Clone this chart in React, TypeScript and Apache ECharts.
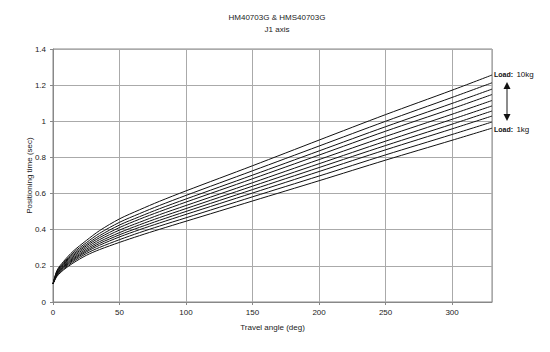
import React, { useEffect, useRef } from "react";
import * as echarts from "echarts";

const angles = [0, 3, 8, 15, 25, 35, 50, 65, 80, 100, 150, 200, 250, 300, 330];

const load1kg = [0.1, 0.142, 0.178, 0.215, 0.258, 0.29, 0.33, 0.367, 0.402, 0.447, 0.559, 0.671, 0.785, 0.895, 0.962];
const load2kg = [0.1, 0.146, 0.183, 0.223, 0.268, 0.302, 0.345, 0.384, 0.42, 0.466, 0.582, 0.697, 0.814, 0.927, 0.996];
const load3kg = [0.1, 0.15, 0.189, 0.23, 0.277, 0.314, 0.36, 0.4, 0.437, 0.485, 0.603, 0.722, 0.842, 0.958, 1.029];
const load4kg = [0.1, 0.153, 0.193, 0.236, 0.284, 0.324, 0.372, 0.413, 0.452, 0.501, 0.622, 0.744, 0.866, 0.984, 1.057];
const load5kg = [0.1, 0.156, 0.198, 0.242, 0.292, 0.334, 0.384, 0.427, 0.467, 0.517, 0.641, 0.765, 0.89, 1.011, 1.085];
const load6kg = [0.1, 0.159, 0.202, 0.249, 0.301, 0.345, 0.398, 0.441, 0.483, 0.534, 0.66, 0.788, 0.916, 1.039, 1.115];
const load7kg = [0.1, 0.163, 0.208, 0.256, 0.31, 0.356, 0.412, 0.458, 0.5, 0.553, 0.682, 0.813, 0.945, 1.07, 1.148];
const load8kg = [0.1, 0.166, 0.213, 0.263, 0.318, 0.367, 0.426, 0.472, 0.516, 0.57, 0.702, 0.836, 0.97, 1.099, 1.178];
const load9kg = [0.1, 0.17, 0.218, 0.271, 0.328, 0.38, 0.441, 0.489, 0.534, 0.59, 0.726, 0.863, 1.0, 1.132, 1.213];
const load10kg = [0.1, 0.175, 0.225, 0.28, 0.34, 0.395, 0.46, 0.51, 0.557, 0.615, 0.754, 0.896, 1.037, 1.172, 1.256];

const seriesNames = ["1kg", "2kg", "3kg", "4kg", "5kg", "6kg", "7kg", "8kg", "9kg", "10kg"];
const seriesValues = [load1kg, load2kg, load3kg, load4kg, load5kg, load6kg, load7kg, load8kg, load9kg, load10kg];

const titleLines = ["HM40703G & HMS40703G", "J1 axis"];
const xAxisName = "Travel angle (deg)";
const yAxisName = "Positioning time (sec)";

const FONT = "'Liberation Sans', Arial, sans-serif";

export default function App() {
  const ref = useRef<HTMLDivElement>(null);
  useEffect(() => {
    if (!ref.current) return;
    const chart = echarts.init(ref.current, undefined, { renderer: "svg" });
    const series = seriesValues.map((vals, i) => ({
      name: seriesNames[i],
      type: "line",
      data: angles.map((a, j) => [a, vals[j]]),
      showSymbol: false,
      smooth: 0.3,
      lineStyle: { color: "#111", width: 1 },
      silent: true,
    }));
    const rich = {
      a: { fontSize: 7, fontFamily: FONT, fill: "#111", color: "#111", fontWeight: "bold" },
      b: { fontSize: 8, fontFamily: FONT, fill: "#111", color: "#111" },
    };
    chart.setOption({
      animation: false,
      backgroundColor: "#fff",
      title: {
        text: titleLines.join("\n"),
        left: 272,
        textAlign: "center",
        top: 6,
        textStyle: { fontSize: 8, fontWeight: "normal", color: "#222", fontFamily: FONT, lineHeight: 12 },
      },
      grid: { left: 53, right: 58, top: 49, bottom: 50, show: true, borderColor: "#888", borderWidth: 1 },
      xAxis: {
        type: "value",
        min: 0,
        max: 330,
        interval: 50,
        name: xAxisName,
        nameLocation: "middle",
        nameGap: 21,
        nameTextStyle: { fontSize: 8, color: "#222", fontFamily: FONT },
        axisLine: { lineStyle: { color: "#888" } },
        axisTick: { show: true, length: 3, lineStyle: { color: "#888" } },
        axisLabel: { fontSize: 8, color: "#222", fontFamily: FONT, margin: 6, showMaxLabel: false },
        splitLine: { show: true, lineStyle: { color: "#aaa", width: 1 } },
      },
      yAxis: {
        type: "value",
        min: 0,
        max: 1.4,
        interval: 0.2,
        name: yAxisName,
        nameLocation: "middle",
        nameGap: 20,
        nameMoveOverlap: false,
        nameTextStyle: { fontSize: 8, color: "#222", fontFamily: FONT },
        axisLine: { show: true, lineStyle: { color: "#888" } },
        axisTick: { show: true, length: 3, lineStyle: { color: "#888" } },
        axisLabel: { fontSize: 8, color: "#222", fontFamily: FONT, margin: 7 },
        splitLine: { show: true, lineStyle: { color: "#aaa", width: 1 } },
      },
      series,
      graphic: [
        {
          type: "text",
          x: 494,
          y: 68,
          style: { text: "{a|Load:} {b|10kg}", rich },
        },
        {
          type: "text",
          x: 494,
          y: 123,
          style: { text: "{a|Load:} {b|1kg}", rich },
        },
        {
          type: "line",
          shape: { x1: 507, y1: 86, x2: 507, y2: 116 },
          style: { stroke: "#666", lineWidth: 1.5 },
        },
        {
          type: "polygon",
          shape: { points: [[507, 82], [503.5, 89], [510.5, 89]] },
          style: { fill: "#111" },
        },
        {
          type: "polygon",
          shape: { points: [[507, 121], [503.5, 114], [510.5, 114]] },
          style: { fill: "#111" },
        },
      ],
    });
    return () => chart.dispose();
  }, []);
  return <div ref={ref} style={{ position: "fixed", left: 0, top: 0, width: 550, height: 352 }} />;
}
